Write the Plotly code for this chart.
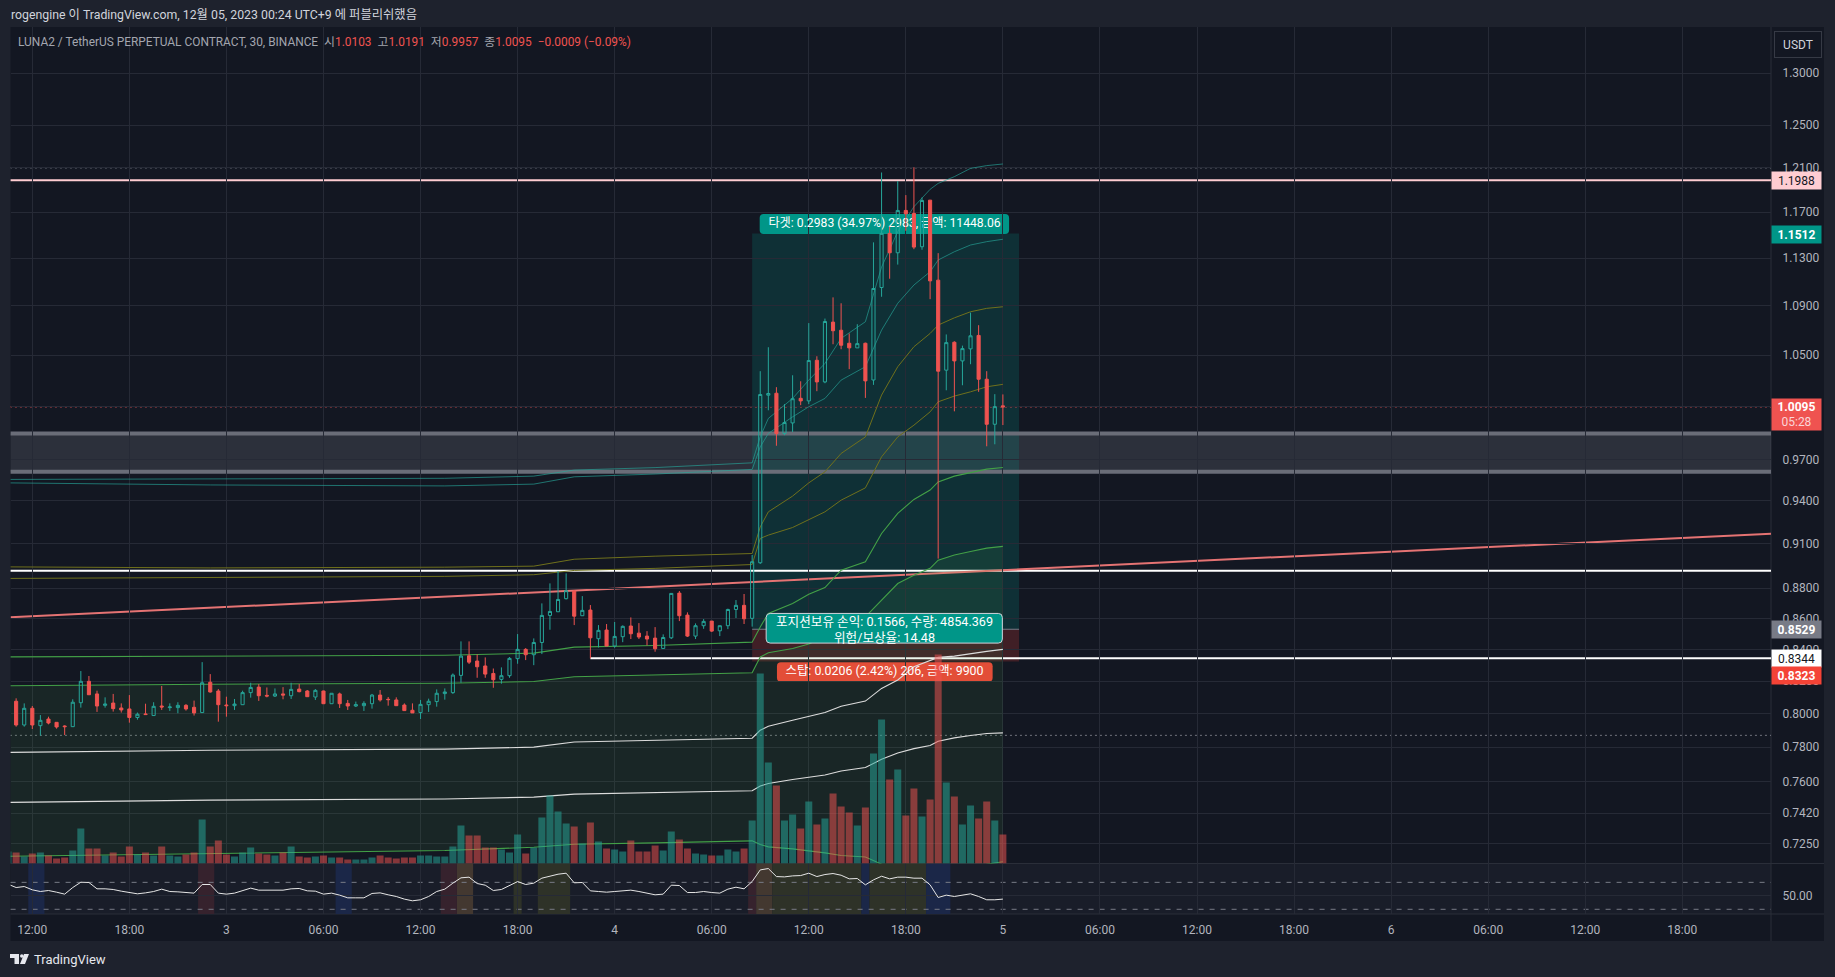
import math
import pandas as pd
import plotly.graph_objects as go

W = 1835
H = 977

opens = [.7952,.8076,.7932,.8033,.7928,.7968,.7948,.7926,.7922,.8067,.8199,.8121,.8051,.8065,.8035,.8029,.7977,.7999,.7989,.8047,.8037,.8037,.8051,.8039,.8007,
         .8193,.8139,.8053,.8049,.8055,.8129,.8163,.8112,.8108,.8121,.8110,.8151,.8139,.8102,.8139,.8061,.8121,.8063,.8047,.8049,.8061,.8114,.8088,.8084,.8053,
         .8021,.8007,.8055,.8074,.8123,.8129,.8236,.8359,.8326,.8295,.8248,.8211,.8234,.8341,.8400,.8366,.8444,.8619,.8643,.8729,.8780,.8617,.8654,.8468,.8524,
         .8421,.8481,.8550,.8504,.8485,.8472,.8406,.8474,.8766,.8621,.8485,.8552,.8582,.8519,.8552,.8658,.8685,.8600,.8970,1.0185,1.0200,.9893,.9973,1.0161,1.0141,
         1.0458,1.0288,1.0765,1.0699,1.0594,1.0557,1.0594,1.0303,1.1051,1.1514,1.1346,1.1716,1.1689,1.1398,1.1808,1.1113,1.0380,1.0602,1.0453,1.0549,1.0657,1.0309,.9963,1.0103]
highs = [.8084,.8094,.8063,.8047,.7992,.7982,.7950,.7930,.8088,.8263,.8232,.8141,.8100,.8121,.8063,.8114,.8007,.8061,.8070,.8170,.8063,.8070,.8059,.8080,.8319,
         .8244,.8151,.8104,.8090,.8141,.8190,.8182,.8161,.8155,.8163,.8190,.8182,.8145,.8151,.8141,.8125,.8129,.8084,.8074,.8076,.8121,.8145,.8102,.8100,.8063,
         .8063,.8084,.8092,.8149,.8155,.8248,.8451,.8451,.8368,.8349,.8279,.8286,.8351,.8498,.8408,.8470,.8698,.8831,.8914,.8898,.8782,.8746,.8687,.8556,.8563,
         .8576,.8554,.8606,.8569,.8517,.8543,.8496,.8764,.8780,.8639,.8567,.8595,.8582,.8552,.8663,.8720,.8760,.9023,1.0372,1.0562,1.0247,1.0116,1.0340,1.0293,1.0757,
         1.0490,1.0794,1.0969,1.0920,1.0673,1.0748,1.0599,1.1436,1.2058,1.1574,1.1980,1.1853,1.2105,1.1832,1.1808,1.1343,1.0665,1.0610,1.0575,1.0843,1.0740,1.0372,1.0193,1.0191]
lows = [.7945,.7922,.7922,.7908,.7868,.7936,.7910,.7872,.7922,.8037,.8116,.8011,.8037,.8013,.8007,.7946,.7964,.7993,.7989,.8023,.8017,.8003,.8019,.7989,.8007,
        .8129,.7952,.7982,.8023,.8055,.8098,.8078,.8100,.8102,.8088,.8090,.8131,.8102,.8084,.8061,.8061,.8035,.8023,.8041,.8017,.8031,.8074,.8049,.8047,.8017,
        .8005,.7968,.8011,.8043,.8086,.8121,.8190,.8307,.8221,.8221,.8159,.8184,.8221,.8309,.8332,.8300,.8370,.8526,.8643,.8724,.8556,.8617,.8343,.8412,.8421,
        .8410,.8446,.8466,.8466,.8425,.8385,.8404,.8466,.8582,.8479,.8466,.8532,.8511,.8485,.8530,.8602,.8563,.8546,.8962,1.0069,.9802,.9881,.9905,1.0108,1.0116,
        1.0216,1.0278,1.0586,1.0546,1.0388,1.0557,1.0164,1.0265,1.0974,1.1125,1.1245,1.1537,1.1377,1.1372,1.0954,.8998,1.0223,1.0061,1.0262,1.0427,1.0211,.9798,.9813,.9957]
closes = [.8078,.7932,.8033,.7932,.7960,.7944,.7920,.7922,.8070,.8199,.8116,.8047,.8059,.8031,.8023,.7977,.7997,.7995,.8045,.8041,.8041,.8051,.8029,.8005,.8190,
          .8133,.8055,.8049,.8059,.8129,.8161,.8110,.8108,.8121,.8114,.8149,.8135,.8104,.8143,.8061,.8125,.8061,.8047,.8055,.8063,.8114,.8084,.8086,.8049,.8019,
          .8005,.8057,.8076,.8125,.8133,.8238,.8357,.8319,.8290,.8244,.8209,.8234,.8343,.8400,.8366,.8444,.8619,.8645,.8724,.8782,.8614,.8652,.8474,.8522,.8421,
          .8483,.8548,.8500,.8479,.8466,.8404,.8476,.8764,.8617,.8485,.8552,.8580,.8517,.8552,.8658,.8685,.8597,.8977,1.0190,1.0198,.9893,.9976,1.0158,1.0141,1.0456,
          1.0288,1.0770,1.0695,1.0578,1.0557,1.0591,1.0296,1.1043,1.1514,1.1346,1.1716,1.1686,1.1395,1.1805,1.1107,1.0372,1.0599,1.0453,1.0551,1.0654,1.0309,.9963,1.0097,1.0095]
volumes = [12,11,7,10,11,8,5,6,13,35,15,15,8,11,7,17,9,11,8,17,8,7,9,11,44,17,23,9,7,11,16,10,9,8,11,17,7,6,7,8,6,6,4,4,4,6,8,6,5,6,6,8,8,7,7,17,38,28,28,16,16,14,11,29,10,16,
           46,68,52,40,37,20,41,22,15,14,12,23,12,12,18,13,32,24,15,10,9,8,8,14,12,15,43,190,101,78,43,49,35,62,39,45,70,57,51,38,56,110,144,84,94,48,75,47,64,209,81,67,39,58,45,62,43,29]
rsi_values = [67.3,62.3,63.8,58.9,56.4,57.9,55.4,52.5,62.3,70.2,69.8,60.4,60.4,59.4,56.9,54.9,53.0,54.4,56.4,59.9,56.4,55.9,54.9,54.0,66.8,66.8,54.0,52.5,54.0,57.9,61.4,58.4,
              58.4,58.4,58.4,60.4,60.9,57.4,56.9,52.5,54.0,51.0,47.0,47.0,47.0,53.5,54.4,51.5,49.0,45.1,42.6,44.1,49.0,56.4,59.9,68.8,76.7,77.7,68.3,65.8,57.9,59.4,64.8,71.2,
              66.8,68.8,76.2,79.6,82.1,83.6,69.3,69.8,57.4,56.4,55.4,56.4,57.9,58.4,56.4,54.0,51.5,52.5,65.8,65.3,54.9,54.9,56.4,54.9,54.0,59.9,62.8,60.4,71.2,
              88.5,90.5,78.6,78.1,79.6,80.1,83.6,78.6,81.6,83.1,80.6,75.2,75.7,66.3,73.7,79.1,75.2,77.7,77.7,76.2,76.2,66.3,47.5,51.0,49.0,51.0,53.0,49.0,44.1,44.1,45.1]

band_bars = [0,25,54,65,70,80,92,93,94,97,99,101,103,106,108,110,112,114,115,117,119,121,123]
teal_upper = [.9555,.9557,.9563,.9579,.9623,.9641,.9676,.9869,1.0007,1.0160,1.0302,1.0433,1.0633,1.0768,1.1224,1.1529,1.1749,1.1905,1.1959,1.2020,1.2096,1.2121,1.2136]
teal_lower = [.9530,.9515,.9508,.9521,.9574,.9594,.9628,.9794,.9894,1.0019,1.0096,1.0160,1.0302,1.0407,1.0700,1.0920,1.1072,1.1184,1.1284,1.1355,1.1413,1.1442,1.1463]
olive_upper = [.8942,.8935,.8940,.8947,.8994,.9015,.9033,.9217,.9323,.9435,.9530,.9610,.9745,.9868,1.0186,1.0407,1.0566,1.0673,1.0741,1.0800,1.0850,1.0878,1.0891]
olive_lower = [.8864,.8872,.8878,.8889,.8918,.8932,.8958,.9137,.9160,.9213,.9269,.9323,.9406,.9494,.9720,.9868,.9956,1.0057,1.0134,1.0178,1.0211,1.0250,1.0269]
green_upper = [.8352,.8359,.8363,.8376,.8414,.8425,.8446,.8544,.8632,.8697,.8759,.8803,.8920,.8976,.9171,.9312,.9411,.9478,.9537,.9579,.9606,.9630,.9642]
green_lower = [.8171,.8181,.8187,.8198,.8227,.8240,.8252,.8352,.8378,.8406,.8434,.8480,.8544,.8610,.8719,.8830,.8886,.8932,.8988,.9023,.9047,.9070,.9082]
white_upper = [.7769,.7782,.7788,.7800,.7830,.7842,.7853,.7901,.7925,.7961,.7986,.8008,.8046,.8077,.8155,.8207,.8290,.8327,.8349,.8357,.8374,.8387,.8400]
white_lower = [.7480,.7493,.7499,.7510,.7527,.7537,.7546,.7573,.7588,.7611,.7624,.7637,.7660,.7680,.7728,.7765,.7791,.7810,.7835,.7855,.7869,.7881,.7885]
green_bottom = [.7181,.7195,.7212,.7230,.7246,.7254,.7265,.7245,.7232,.7221,.7212,.7199,.7185,.7177,.7138,.705,.69,.68,.68,.68,.69,.7138,.7151]

price_ticks = [1.3,1.25,1.21,1.17,1.13,1.09,1.05,1.01,.97,.94,.91,.88,.86,.84,.82,.80,.78,.76,.742,.725]
time_ticks = pd.date_range("2023-12-02 12:00", "2023-12-06 18:00", freq="6h")
time_labels = ["12:00","18:00","3","06:00","12:00","18:00","4","06:00","12:00","18:00","5","06:00","12:00","18:00","6","06:00","12:00","18:00"]

# rsi pane highlights: start, end, colour
rsi_spans = [
    ("2023-12-02 11:45", "2023-12-02 12:45", "#1b2748"),
    ("2023-12-02 22:15", "2023-12-02 23:15", "#36222d"),
    ("2023-12-03 06:45", "2023-12-03 07:45", "#1b2748"),
    ("2023-12-03 13:15", "2023-12-03 14:15", "#36222d"),
    ("2023-12-03 14:15", "2023-12-03 15:15", "#433830"),
    ("2023-12-03 17:45", "2023-12-03 18:15", "#2e3228"),
    ("2023-12-03 19:15", "2023-12-03 21:15", "#2e3228"),
    ("2023-12-04 08:15", "2023-12-04 08:45", "#36222d"),
    ("2023-12-04 08:45", "2023-12-04 09:45", "#433830"),
    ("2023-12-04 09:45", "2023-12-04 15:15", "#2e3228"),
    ("2023-12-04 15:15", "2023-12-04 15:45", "#1b2748"),
    ("2023-12-04 15:45", "2023-12-04 19:15", "#2e3228"),
    ("2023-12-04 19:15", "2023-12-04 20:45", "#1b2748"),
]

assert len(opens) == len(highs) == len(lows) == len(closes) == len(volumes) == len(rsi_values) == 124

times = pd.date_range("2023-12-02 10:30", periods=124, freq="30min")
band_times = [times[i] for i in band_bars]

UP = "#26a69a"
DOWN = "#ef5350"
FONT = "Roboto, 'Noto Sans CJK KR', sans-serif"
AXIS_TEXT = "#b2b5be"
GRID = "#262a36"
PX_PER_LOG = 1318.8  # screen px per unit of ln(price)
PX_PER_HOUR = 16.18


def px_x(x):
    return x / W


def px_y(y):
    return 1 - y / H


main_bottom = px_y(863.5)
main_top = px_y(27)
rsi_bottom = px_y(914)
log_low = math.log10(0.71414)
log_high = math.log10(1.3464)

fig = go.Figure()

# base layer: band lines and the text that sits under the candles
def band(values, color, width=1.0, fill=None, fillcolor=None):
    fig.add_trace(go.Scatter(x=band_times, y=values, mode="lines", line=dict(color=color, width=width),
                             fill=fill, fillcolor=fillcolor, showlegend=False, hoverinfo="skip"))


band(green_bottom, "#43a047", 1.1)
band(green_lower, "#43a047", 1.1, fill="tonexty", fillcolor="rgba(76,175,80,0.1)")
band(green_upper, "#43a047", 1.1)
band(teal_upper, "rgba(38,166,154,0.65)", 1)
band(teal_lower, "rgba(38,166,154,0.65)", 1)
band(olive_upper, "#6f701c", 1)
band(olive_lower, "#6f701c", 1)
band(white_upper, "#dcdcdc", 1.1)
band(white_lower, "#dcdcdc", 1.1)

fig.add_trace(go.Scatter(x=["2023-12-04 16:41"], y=[1.1596], mode="text",
                         text=["타겟: 0.2983 (34.97%) 2983, 금액: 11448.06"],
                         textfont=dict(family=FONT, size=12.2, color="#ffffff"),
                         showlegend=False, hoverinfo="skip"))
fig.add_trace(go.Scatter(x=["2023-12-04 16:41"], y=[0.8258], mode="text",
                         text=["스탑: 0.0206 (2.42%) 206, 금액: 9900"],
                         textfont=dict(family=FONT, size=12.4, color="#ffffff"),
                         showlegend=False, hoverinfo="skip"))

# volume
bar_colors = ["rgba(38,166,154,0.52)" if c >= o else "rgba(239,83,80,0.52)" for o, c in zip(opens, closes)]
fig.add_trace(go.Bar(x=times, y=volumes, marker=dict(color=bar_colors, line_width=0), width=1560000,
                     yaxis="y2", showlegend=False, hoverinfo="skip"))

# candles on top
fig.add_trace(go.Candlestick(x=times, open=opens, high=highs, low=lows, close=closes, yaxis="y3",
                             increasing=dict(line=dict(color=UP, width=1), fillcolor="rgba(0,0,0,0)"),
                             decreasing=dict(line=dict(color=DOWN, width=1), fillcolor=DOWN),
                             whiskerwidth=0, showlegend=False, hoverinfo="skip"))

# rsi pane
fig.add_trace(go.Scatter(x=times, y=rsi_values, mode="lines", line=dict(color="#e6e6e6", width=1), yaxis="y4",
                         showlegend=False, hoverinfo="skip"))

shapes = []

# page background blocks
shapes.append(dict(type="rect", xref="paper", yref="paper", x0=px_x(10.5), x1=px_x(1824), y0=px_y(941), y1=px_y(27),
                   fillcolor="#131722", line_width=0, layer="below"))
shapes.append(dict(type="rect", xref="paper", yref="paper", x0=px_x(10.5), x1=px_x(1771), y0=px_y(914), y1=px_y(863.5),
                   fillcolor="#191d29", line_width=0, layer="below"))
for y in [863.5, 914]:
    shapes.append(dict(type="line", xref="paper", yref="paper", x0=px_x(10.5), x1=px_x(1824), y0=px_y(y), y1=px_y(y),
                       line=dict(color="#2a2e39", width=1), layer="below"))
shapes.append(dict(type="line", xref="paper", yref="paper", x0=px_x(1771), x1=px_x(1771), y0=px_y(941), y1=px_y(27),
                   line=dict(color="#2a2e39", width=1), layer="below"))

for start, end, color in rsi_spans:
    shapes.append(dict(type="rect", xref="x", yref="y4 domain", x0=start, x1=end, y0=0, y1=1,
                       fillcolor=color, line_width=0, layer="below"))
for level in [70, 30]:
    shapes.append(dict(type="line", xref="paper", yref="y4", x0=px_x(10.6), x1=px_x(1771), y0=level, y1=level,
                       line=dict(color="#787b86", width=1, dash="5px,6px"), layer="below"))


def hline(price, color, width, start="2023-12-02 10:00", dash=None, layer="below"):
    shapes.append(dict(type="line", xref="x", yref="y", x0=start, x1="2023-12-06 23:29", y0=price, y1=price,
                       line=dict(color=color, width=width, dash=dash), layer=layer))


def rounded_box(start, end, top, bottom, fill, layer, border=None):
    # rounded rectangle on the date / log price axes, corners about 4px
    t0, t1 = pd.Timestamp(start), pd.Timestamp(end)
    dt = pd.Timedelta(hours=4 / PX_PER_HOUR)
    k = math.exp(4 / PX_PER_LOG)

    def t(v):
        return v.strftime("%Y-%m-%d_%H:%M:%S")

    path = (f"M {t(t0 + dt)},{top} L {t(t1 - dt)},{top} Q {t(t1)},{top} {t(t1)},{top / k} "
            f"L {t(t1)},{bottom * k} Q {t(t1)},{bottom} {t(t1 - dt)},{bottom} "
            f"L {t(t0 + dt)},{bottom} Q {t(t0)},{bottom} {t(t0)},{bottom * k} "
            f"L {t(t0)},{top / k} Q {t(t0)},{top} {t(t0 + dt)},{top} Z")
    line = dict(color=border, width=1) if border else dict(width=0)
    shapes.append(dict(type="path", xref="x", yref="y", path=path, fillcolor=fill, line=line, layer=layer))


# supply zone
shapes.append(dict(type="rect", xref="x", yref="y", x0="2023-12-02 10:00", x1="2023-12-06 23:29", y0=0.9610, y1=0.9893,
                   fillcolor="rgba(120,123,134,0.25)", line_width=0, layer="below"))
# long position tool
shapes.append(dict(type="rect", xref="x", yref="y", x0="2023-12-04 08:30", x1="2023-12-05 01:00", y0=0.8529, y1=1.1512,
                   fillcolor="rgba(0,150,136,0.2)", line_width=0, layer="below"))
shapes.append(dict(type="rect", xref="x", yref="y", x0="2023-12-04 08:30", x1="2023-12-05 01:00", y0=0.8323, y1=0.8529,
                   fillcolor="rgba(244,67,54,0.2)", line_width=0, layer="below"))
shapes.append(dict(type="line", xref="x", yref="y", x0="2023-12-04 08:30", x1="2023-12-05 01:00", y0=0.8529, y1=0.8529,
                   line=dict(color="#787b86", width=1), layer="below"))
rounded_box("2023-12-04 08:58", "2023-12-05 00:23", 1.1684, 1.1509, "#009688", "below")
rounded_box("2023-12-04 10:02", "2023-12-04 23:22", 0.8319, 0.8196, "#f44336", "below")
rounded_box("2023-12-04 09:22", "2023-12-04 23:58", 0.8632, 0.8440, "#009688", "above", border="#d1d4dc")

hline(0.9893, "#6a6d78", 4)
hline(0.9610, "#6a6d78", 4)
hline(1.21, "rgba(178,181,190,0.6)", 1, dash="2px,3px")
hline(0.7870, "rgba(178,181,190,0.6)", 1, dash="2px,3px")
hline(1.1988, "#ffcdd2", 2)
hline(1.0095, DOWN, 1, dash="2px,3px")
hline(0.8915, "#ffffff", 2)
hline(0.8344, "#ffffff", 2, start="2023-12-03 22:30")
shapes.append(dict(type="line", xref="x", yref="y", x0="2023-12-02 10:39", x1="2023-12-06 23:29", y0=0.8607, y1=0.9170,
                   line=dict(color="#e57373", width=2), layer="below"))

# tradingview logo, bottom left
def poly(points):
    return "M" + " L".join(f"{px_x(x):.5f},{px_y(y):.5f}" for x, y in points) + " Z"


shapes.append(dict(type="path", xref="paper", yref="paper", line_width=0, fillcolor="#e6e8ee",
                   path=poly([(10, 954), (19, 954), (19, 964), (14.5, 964), (14.5, 958), (10, 958)])))
shapes.append(dict(type="path", xref="paper", yref="paper", line_width=0, fillcolor="#e6e8ee",
                   path=poly([(24, 954), (29, 954), (25, 964), (20, 964)])))
shapes.append(dict(type="circle", xref="paper", yref="paper", line_width=0, fillcolor="#e6e8ee",
                   x0=px_x(20), x1=px_x(23.6), y0=px_y(957.8), y1=px_y(954.2)))

annotations = []


def label(x, y, text, color=AXIS_TEXT, size=12, xanchor="left", **kw):
    annotations.append(dict(xref="paper", yref="paper", x=px_x(x), y=px_y(y), text=text, showarrow=False, xanchor=xanchor,
                            yanchor="middle", font=dict(family=FONT, size=size, color=color), borderpad=0, **kw))


def price_tag(y, height, text, bg, color="#ffffff"):
    label(1771, y, text, color=color, bgcolor=bg, width=49, height=height, align="center")


label(10, 14, "rogengine 이 TradingView.com, 12월 05, 2023 00:24 UTC+9 에 퍼블리쉬했음", color="#d1d4dc", size=12.3)
red = "<span style='color:%s'>" % DOWN
label(17, 42, "LUNA2 / TetherUS PERPETUAL CONTRACT, 30, BINANCE  시" + red + "1.0103</span>  고" + red + "1.0191</span>  저" + red
      + "0.9957</span>  종" + red + "1.0095</span>  " + red + "−0.0009 (−0.09%)</span>", color="#a3a6af", size=11.9)
label(33, 959.5, "TradingView", color="#e6e8ee", size=13)

price_tag(180.3, 17, "1.1988", "#ffcdd2", color="#131722")
price_tag(234.3, 17, "<b>1.1512</b>", "#009688")
price_tag(414.5, 31, "<b>1.0095</b><br><span style='color:#fbd5d8'>05:28</span>", DOWN)
price_tag(629.5, 17, "<b>0.8529</b>", "#787b86")
price_tag(658.3, 17, "0.8344", "#ffffff", color="#131722")
price_tag(675.8, 17, "<b>0.8323</b>", "#f44336")

label(1798, 44, "USDT", color="#d1d4dc", xanchor="center", bgcolor="#131722", bordercolor="#363a45", borderwidth=1,
      width=46, height=25, align="center")
label(884.5, 629, "포지션보유 손익: 0.1566, 수량: 4854.369<br>위험/보상율: 14.48", color="#ffffff", size=12.6, xanchor="center",
      width=237, height=33, align="center")

fig.update_layout(
    width=W,
    height=H,
    margin=dict(l=0, r=0, t=0, b=0),
    autosize=False,
    paper_bgcolor="#1e222d",
    plot_bgcolor="rgba(0,0,0,0)",
    font=dict(family=FONT, size=12, color=AXIS_TEXT),
    showlegend=False,
    boxgap=0.45,
    shapes=shapes,
    annotations=annotations,
    xaxis=dict(domain=[px_x(10.6), px_x(1771)], anchor="y4", type="date", range=["2023-12-02 10:39:30", "2023-12-06 23:29"],
               tickmode="array", tickvals=list(time_ticks), ticktext=time_labels, showgrid=True, gridcolor=GRID, gridwidth=1,
               zeroline=False, showline=False, ticks="outside", ticklen=5, tickcolor="rgba(0,0,0,0)",
               tickfont=dict(size=12, color=AXIS_TEXT), rangeslider=dict(visible=False)),
    yaxis=dict(domain=[main_bottom, main_top], anchor="x", side="right", type="log", range=[log_low, log_high],
               tickmode="array", tickvals=price_ticks, ticktext=["" if p == 1.01 else "%.4f" % p for p in price_ticks],
               showgrid=True, gridcolor=GRID, gridwidth=1, zeroline=False, showline=False, ticks="outside", ticklen=8,
               tickcolor="rgba(0,0,0,0)", tickfont=dict(size=12, color=AXIS_TEXT)),
    yaxis2=dict(domain=[main_bottom, main_top], anchor="x", overlaying="y", side="right", range=[0, 836.5], visible=False),
    yaxis3=dict(domain=[main_bottom, main_top], anchor="x", overlaying="y", side="right", type="log", range=[log_low, log_high], visible=False),
    yaxis4=dict(domain=[rsi_bottom, main_bottom], anchor="x", side="right", range=[23, 98], tickmode="array", tickvals=[50],
                ticktext=["50.00"], showgrid=True, gridcolor=GRID, zeroline=False, showline=False, ticks="outside", ticklen=8,
                tickcolor="rgba(0,0,0,0)", tickfont=dict(size=12, color=AXIS_TEXT)),
)

fig.write_html("out.html", config={"displayModeBar": False},
               post_script="document.body.style.margin='0';document.body.style.overflow='hidden';")
